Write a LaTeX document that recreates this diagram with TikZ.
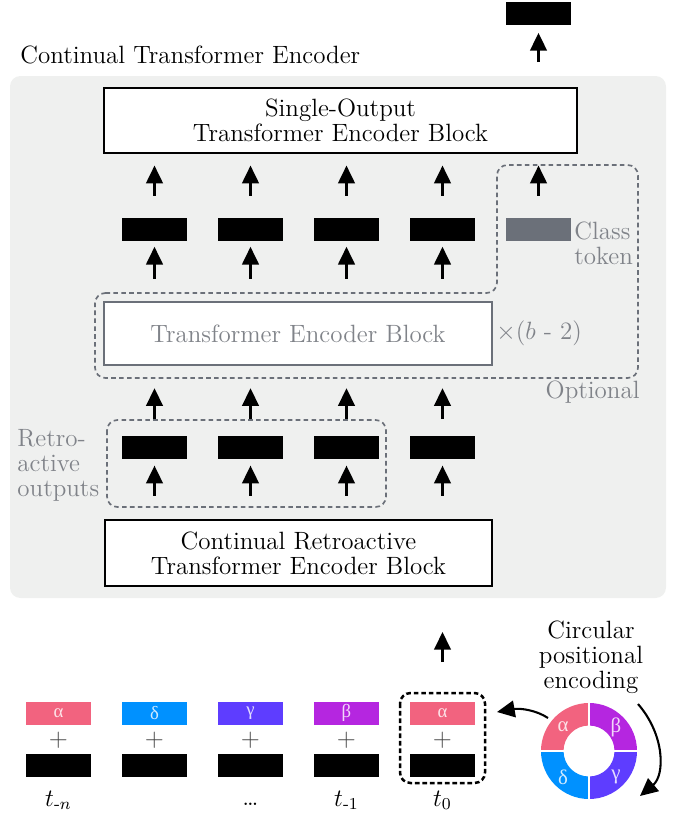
\documentclass[tikz,border=0pt]{standalone}
\usepackage{amsmath}
\usepackage{fontspec}
\newfontfamily\grkfont{Liberation Serif}
\usetikzlibrary{arrows.meta}
\newdimen\pxu \pxu=0.48pt
\definecolor{bggray}{HTML}{EFF0EF}
\definecolor{midgray}{HTML}{6B7079}
\definecolor{txtgray}{HTML}{808389}
\definecolor{alphaC}{HTML}{F2637F}
\definecolor{betaC}{HTML}{B526E0}
\definecolor{gammaC}{HTML}{5E3DFF}
\definecolor{deltaC}{HTML}{0091FF}
\definecolor{plusC}{HTML}{444444}
\tikzset{
  tok/.style={fill=black, inner sep=0, minimum width=65*\pxu, minimum height=23*\pxu},
  ptok/.style={tok, fill=#1, text=white!82!#1, font=\grkfont\fontsize{9}{9}\selectfont},
  blk/.style={draw, line width=1.3pt, fill=white, align=center, inner sep=0},
  arr/.style={line width=1pt, -{Triangle[width=8pt,length=8.5pt]}},
  gtxt/.style={text=txtgray, inner sep=0},
  optdash/.style={draw=midgray, line width=0.8pt, dash pattern=on 2.2pt off 1.6pt, rounded corners=5pt},
  ringlab/.style={text=white!82!#1, font=\grkfont\fontsize{10}{10}\selectfont, inner sep=0},
}
\begin{document}
\begin{tikzpicture}[x=0.48pt, y=-0.48pt, font=\fontsize{12}{12}\selectfont]
\useasboundingbox (0,0) rectangle (677,818);
% background
\fill[bggray, rounded corners=5pt] (10,76) rectangle (666,598);
\node[anchor=base west, inner sep=0] (title) at (20,63) {Continual Transformer Encoder};

% top output
\node[tok] (out) at (538.5,13) {};
\coordinate (outsrc) at (538.5,62);
\draw[arr] (outsrc) -- ([yshift=-8*\pxu]out.south);

% single-output block
\node[blk, minimum width=473*\pxu, minimum height=65*\pxu] (sob) at (340.5,120.5) {Single-Output\\Transformer Encoder Block};

% optional dashed region
\draw[optdash] (95,293) -- (497,293) -- (497,165) -- (638,165) -- (638,378) -- (95,378) -- cycle;

% token row A
\foreach \i/\x in {1/154.5,2/250.5,3/346.5,4/442.5}{
  \node[tok] (a\i) at (\x,229.5) {};
}
\node[tok, fill=midgray] (cls) at (538.5,229.5) {};
\node[gtxt, anchor=west, align=left] (clslab) at (574,243) {Class\\token};
\foreach \n in {a1,a2,a3,a4,cls}{
  \draw[arr] (\n.north) ++(0,-22) -- ++(0,-30);
}

% transformer encoder block
\node[blk, draw=midgray, line width=1.15pt, text=txtgray, minimum width=388*\pxu, minimum height=63*\pxu] (teb) at (298,333.5) {Transformer Encoder Block};
\node[gtxt, anchor=west] (times) at (496,333) {$\times(b\text{ - }2)$};
\node[gtxt, anchor=base east] (opt) at (640,398) {Optional};
\foreach \n in {a1,a2,a3,a4}{
  \draw[arr] (teb.north -| \n) ++(0,-22) -- ++(0,-32);
}

% token row B
\foreach \i/\x in {1/154.5,2/250.5,3/346.5,4/442.5}{
  \node[tok] (b\i) at (\x,447.5) {};
}
\draw[optdash] (107,420) rectangle (386,507);
\node[gtxt, anchor=west, align=left] (retro) at (17,465) {Retro-\\active\\outputs};
\foreach \n in {b1,b2,b3,b4}{
  \draw[arr] (teb.south -| \n) ++(0,53) -- ++(0,-31);
}

% continual retroactive block
\node[blk, minimum width=387*\pxu, minimum height=66*\pxu] (crb) at (298.5,553) {Continual Retroactive\\Transformer Encoder Block};
\foreach \n in {b1,b2,b3,b4}{
  \draw[arr] (crb.north -| \n) ++(0,-23) -- ++(0,-30);
}

% input arrow
\coordinate (insrc) at (442.5,662);
\draw[arr] (insrc) -- (442.5,632);

% bottom tokens
\foreach \i/\x/\c/\g in {1/58.5/alphaC/α,2/154.5/deltaC/δ,3/250.5/gammaC/γ,4/346.5/betaC/β,5/442.5/alphaC/α}{
  \node[ptok=\c] (p\i) at (\x,713) {\g};
  \node[text=plusC, inner sep=0] (plus\i) at (\x,740) {$+$};
  \node[tok] (e\i) at (\x,765) {};
}
\node[inner sep=0, anchor=base] (l1) at (58.5,806) {$t_{\text{-}n}$};
\node[inner sep=0, anchor=base] (l3) at (250.5,805) {\dots};
\node[inner sep=0, anchor=base] (l4) at (346.5,806) {$t_{\text{-}1}$};
\node[inner sep=0, anchor=base] (l5) at (442.5,806) {$t_{0}$};
\draw[black, line width=1.2pt, dash pattern=on 2.2pt off 1.4pt, rounded corners=5pt] (400,693) rectangle (485,783);

% circular positional encoding
\node[align=center, inner sep=0] (circlab) at (591,657) {Circular\\positional\\encoding};
\coordinate (ring) at (589,751);
\begin{scope}[shift={(ring)}, y=0.48pt]
  \fill[alphaC] (90:48) arc (90:180:48) -- (180:25.5) arc (180:90:25.5) -- cycle;
  \fill[betaC] (0:48) arc (0:90:48) -- (90:25.5) arc (90:0:25.5) -- cycle;
  \fill[gammaC] (270:48) arc (270:360:48) -- (0:25.5) arc (360:270:25.5) -- cycle;
  \fill[deltaC] (180:48) arc (180:270:48) -- (270:25.5) arc (270:180:25.5) -- cycle;
  \draw[white, line width=0.8pt] (-49,0) -- (-25,0) (25,0) -- (49,0) (0,-49) -- (0,-25) (0,25) -- (0,49);
  \node[ringlab=alphaC] at (-26,24) {α};
  \node[ringlab=betaC] at (27,24) {β};
  \node[ringlab=gammaC] at (27,-26) {γ};
  \node[ringlab=deltaC] at (-26,-26) {δ};
\end{scope}
\draw[arr] ([shift={(-41,-33)}]ring) .. controls (536,710) and (520,708) .. (497,712);
\draw[arr] ([shift={(49,-47)}]ring) .. controls (665,735) and (665,775) .. (640,796);
\end{tikzpicture}
\end{document}
